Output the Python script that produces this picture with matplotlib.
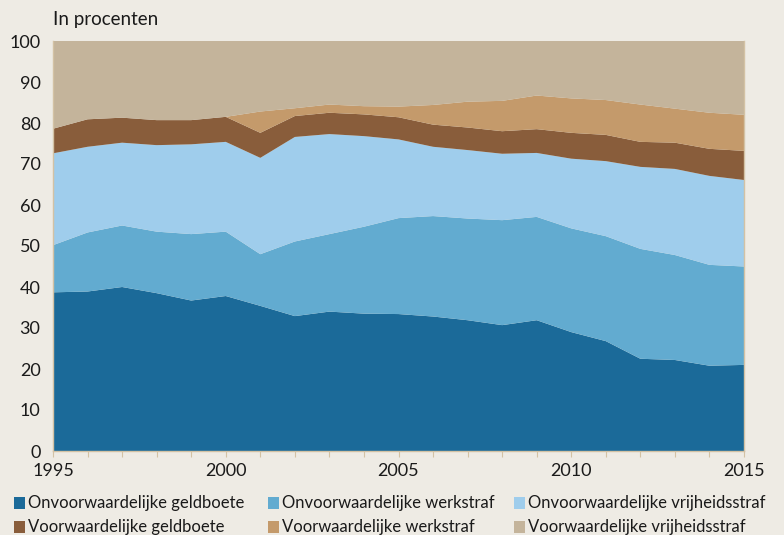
import matplotlib

matplotlib.use("Agg")
import matplotlib.pyplot as plt  # noqa: E402
from matplotlib.patches import Rectangle  # noqa: E402

plt.rcParams["font.family"] = ["Lato", "DejaVu Sans"]

years = list(range(1995, 2016))

# aandeel per strafsoort, in procenten (gestapeld van onder naar boven)
onv_geldboete = [38.7, 38.9, 40.0, 38.5, 36.7, 37.8, 35.4, 32.9, 34.0, 33.5, 33.4,
                 32.8, 31.9, 30.7, 31.9, 29.0, 26.8, 22.5, 22.2, 20.8, 21.0]
onv_werkstraf = [11.5, 14.4, 15.0, 15.0, 16.2, 15.7, 12.6, 18.2, 18.9, 21.2, 23.4,
                 24.5, 24.8, 25.6, 25.2, 25.3, 25.6, 26.8, 25.6, 24.6, 24.0]
onv_vrijheid = [22.4, 20.9, 20.2, 21.1, 21.9, 21.9, 23.5, 25.5, 24.4, 22.1, 19.2,
                16.9, 16.7, 16.2, 15.6, 17.0, 18.3, 20.0, 21.0, 21.7, 21.1]
vw_geldboete = [6.0, 6.7, 6.1, 6.1, 5.9, 6.1, 6.1, 5.1, 5.2, 5.3, 5.4,
                5.4, 5.5, 5.5, 5.8, 6.3, 6.4, 6.1, 6.4, 6.6, 7.1]
vw_werkstraf = [0.0, 0.0, 0.0, 0.0, 0.0, 0.0, 5.2, 1.9, 2.0, 2.0, 2.6,
                4.8, 6.3, 7.4, 8.2, 8.4, 8.5, 9.1, 8.3, 8.8, 8.8]
vw_vrijheid = [21.4, 19.1, 18.7, 19.3, 19.3, 18.5, 17.2, 16.4, 15.5, 15.9, 16.0,
               15.6, 14.8, 14.6, 13.3, 14.0, 14.4, 15.5, 16.5, 17.5, 18.0]

labels = [
    "Onvoorwaardelijke geldboete",
    "Onvoorwaardelijke werkstraf",
    "Onvoorwaardelijke vrijheidsstraf",
    "Voorwaardelijke geldboete",
    "Voorwaardelijke werkstraf",
    "Voorwaardelijke vrijheidsstraf",
]
colors = ["#1b6a99", "#62abd0", "#9fcdec", "#895d3b", "#c49a6b", "#c4b49b"]

BG = "#eeebe4"
SPINE = "#d3c2a4"
TXT = "#1a1a1a"

fig = plt.figure(figsize=(7.84, 5.35), dpi=100, facecolor=BG)
ax = fig.add_axes([53 / 784, 1 - 451 / 535, (744 - 53) / 784, (451 - 41) / 535])
ax.set_facecolor(BG)

ax.stackplot(years, onv_geldboete, onv_werkstraf, onv_vrijheid,
             vw_geldboete, vw_werkstraf, vw_vrijheid,
             colors=colors, linewidth=0)

ax.set_xlim(1995, 2015)
ax.set_ylim(0, 100)
ax.set_yticks(range(0, 101, 10))
ax.set_xticks(years)
ax.set_xticklabels([str(y) if y % 5 == 0 else "" for y in years])

ax.spines["top"].set_visible(False)
for side in ["left", "bottom", "right"]:
    ax.spines[side].set_color(SPINE)
    ax.spines[side].set_linewidth(1.0)
ax.tick_params(axis="y", length=0, pad=9, labelsize=13, labelcolor=TXT)
ax.tick_params(axis="x", length=4, color=SPINE, pad=5, labelsize=13, labelcolor=TXT)

fig.text(53 / 784, 1 - 20 / 535, "In procenten", fontsize=13.5, color=TXT,
         ha="left", va="center")

# legenda: 2 rijen, 3 kolommen
col_x = [14, 268, 514]
row_y = [503, 527]
for i, (lab, col) in enumerate(zip(labels, colors)):
    cx = col_x[i % 3]
    cy = row_y[i // 3]
    fig.patches.append(Rectangle((cx / 784, 1 - (cy + 6) / 535), 11 / 784, 12 / 535,
                                 transform=fig.transFigure, facecolor=col,
                                 edgecolor="none"))
    fig.text((cx + 14) / 784, 1 - cy / 535, lab, fontsize=12, color=TXT,
             ha="left", va="center")

fig.savefig("out.png", dpi=100, facecolor=BG)
plt.close(fig)
